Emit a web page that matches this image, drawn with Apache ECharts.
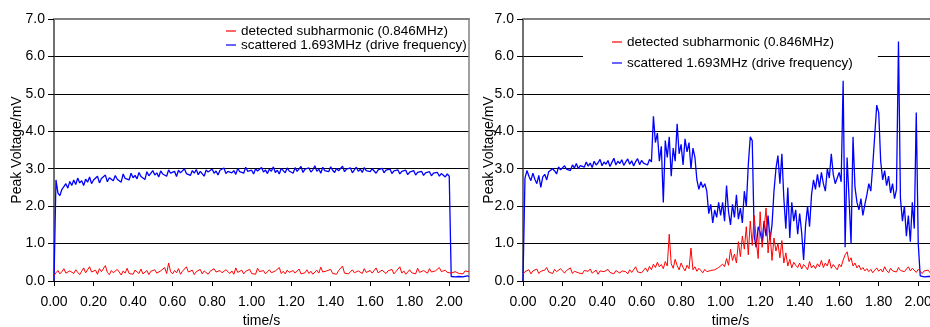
<!DOCTYPE html>
<html>
<head>
<meta charset="utf-8">
<script src="https://cdn.jsdelivr.net/npm/echarts@6/dist/echarts.min.js"></script>
<style>
html,body{margin:0;padding:0;background:#fff;overflow:hidden;}
#chart{width:930px;height:327px;}
</style>
</head>
<body>
<div id="chart"></div>
<script>
// ---- data ----
const sampleStep = 0.01; // s between samples
const seriesNames = ['detected subharmonic (0.846MHz)', 'scattered 1.693MHz (drive frequency)'];
const xTickValues = [0, 0.2, 0.4, 0.6, 0.8, 1.0, 1.2, 1.4, 1.6, 1.8, 2.0];
const yTickValues = [0, 1, 2, 3, 4, 5, 6, 7];

// left panel: subharmonic (red)
const leftSub = [
0.15,0.22,0.28,0.19,0.25,0.33,0.21,0.18,0.27,0.24,
0.20,0.30,0.23,0.17,0.26,0.35,0.22,0.19,0.38,0.24,
0.21,0.29,0.18,0.33,0.25,0.20,0.41,0.23,0.17,0.28,
0.22,0.19,0.31,0.24,0.16,0.27,0.21,0.34,0.20,0.23,
0.18,0.29,0.25,0.20,0.32,0.19,0.24,0.28,0.17,0.26,
0.22,0.30,0.21,0.18,0.27,0.23,0.36,0.20,0.48,0.25,
0.19,0.28,0.22,0.33,0.18,0.26,0.21,0.38,0.24,0.20,
0.29,0.17,0.25,0.22,0.31,0.19,0.27,0.23,0.18,0.26,
0.21,0.33,0.24,0.19,0.28,0.22,0.17,0.30,0.25,0.20,
0.27,0.18,0.35,0.23,0.21,0.29,0.19,0.26,0.22,0.31,
0.20,0.24,0.18,0.34,0.25,0.21,0.28,0.19,0.23,0.30,
0.22,0.17,0.27,0.24,0.36,0.20,0.26,0.19,0.29,0.23,
0.18,0.28,0.21,0.25,0.32,0.19,0.24,0.22,0.30,0.20,
0.26,0.18,0.23,0.29,0.21,0.37,0.24,0.19,0.27,0.22,
0.31,0.20,0.25,0.18,0.28,0.23,0.40,0.21,0.26,0.19,
0.24,0.30,0.22,0.17,0.27,0.25,0.20,0.33,0.23,0.19,
0.28,0.21,0.26,0.35,0.22,0.18,0.29,0.24,0.20,0.27,
0.23,0.31,0.19,0.25,0.22,0.38,0.21,0.27,0.18,0.24,
0.30,0.22,0.26,0.19,0.34,0.23,0.20,0.28,0.25,0.21,
0.33,0.24,0.19,0.27,0.22,0.36,0.25,0.20,0.29,0.23,
0.26,0.21,0.18,0.25,0.29,0.20,0.24,0.19,0.27,0.22,0.25
];

// left panel: scattered drive frequency (blue)
const leftScat = [
0,2.70,2.35,2.28,2.45,2.52,2.60,2.48,2.66,2.55,
2.70,2.58,2.75,2.62,2.68,2.55,2.72,2.64,2.78,2.60,
2.70,2.66,2.80,2.62,2.74,2.69,2.83,2.65,2.76,2.71,
2.68,2.82,2.72,2.77,2.64,2.86,2.74,2.79,2.70,2.88,
2.76,2.82,2.73,2.90,2.79,2.84,2.71,2.92,2.81,2.86,
2.95,2.83,2.89,2.78,2.94,2.86,2.91,2.80,2.97,2.88,
2.85,2.93,2.79,2.96,2.89,2.84,3.00,2.87,2.92,2.82,
2.95,2.88,2.98,2.84,2.93,2.90,2.80,2.97,2.91,2.86,
2.99,2.88,2.94,2.83,2.96,2.91,3.02,2.87,2.93,2.98,
2.89,2.95,2.85,3.01,2.92,2.97,2.88,3.04,2.93,2.90,
2.96,2.86,3.00,2.94,2.89,3.03,2.91,2.97,2.87,2.99,
2.93,3.05,2.90,2.96,2.86,3.01,2.95,2.89,3.02,2.94,
2.98,2.88,3.03,2.93,2.97,3.06,2.90,2.99,2.94,3.02,
2.91,2.97,3.08,2.93,2.99,2.88,3.04,2.95,3.00,2.92,
3.05,2.96,2.90,3.01,2.94,2.98,3.07,2.92,2.99,2.95,
3.02,2.89,2.97,3.04,2.93,2.99,2.90,3.03,2.95,2.98,
2.92,3.00,2.94,2.88,2.97,2.93,3.01,2.89,2.96,2.91,
2.99,2.87,2.94,2.90,2.97,2.86,2.93,2.89,2.96,2.84,
2.91,2.87,2.95,2.83,2.90,2.86,2.93,2.82,2.89,2.85,
2.92,2.81,2.88,2.84,2.90,2.80,2.87,2.83,2.78,2.86,
2.80,0.12,0.13,0.11,0.14,0.12,0.13,0.11,0.12,0.14,0.12
];

// right panel: subharmonic (red)
const rightSub = [
0.18,0.25,0.21,0.30,0.19,0.27,0.23,0.32,0.20,0.26,
0.22,0.29,0.36,0.24,0.27,0.20,0.31,0.25,0.22,0.33,
0.27,0.21,0.28,0.24,0.35,0.20,0.26,0.30,0.22,0.25,
0.19,0.28,0.23,0.26,0.32,0.21,0.24,0.29,0.18,0.27,
0.22,0.25,0.20,0.31,0.23,0.26,0.19,0.28,0.24,0.21,
0.27,0.22,0.25,0.19,0.30,0.23,0.26,0.38,0.24,0.29,
0.22,0.27,0.35,0.25,0.39,0.30,0.45,0.36,0.50,0.38,
0.44,0.33,0.52,0.40,1.25,0.46,0.34,0.58,0.41,0.30,
0.48,0.36,0.27,0.42,0.33,0.88,0.30,0.38,0.26,0.34,
0.29,0.22,0.31,0.25,0.20,0.28,0.23,0.30,0.26,0.36,
0.32,0.45,0.38,0.60,0.42,0.85,0.55,0.72,0.48,1.05,
0.65,1.20,0.85,1.45,0.70,1.60,0.95,1.75,1.10,0.60,
1.85,0.90,1.40,1.95,0.75,1.30,0.55,1.15,0.80,1.00,
0.62,1.08,0.48,0.75,0.40,0.58,0.35,0.50,0.42,0.36,
0.48,0.32,0.44,0.38,0.30,0.52,0.35,0.42,0.33,0.46,
0.38,0.55,0.36,0.48,0.40,0.58,0.34,0.44,0.37,0.30,
0.45,0.38,0.56,0.70,0.78,0.52,0.62,0.40,0.48,0.35,
0.42,0.30,0.36,0.27,0.33,0.25,0.31,0.22,0.29,0.35,
0.26,0.32,0.24,0.38,0.28,0.22,0.34,0.27,0.31,0.24,
0.36,0.28,0.33,0.25,0.30,0.38,0.27,0.34,0.29,0.23,
0.31,0.26,0.20,0.27,0.24,0.29,0.22,0.26,0.30,0.24,0.27
];

// right panel: scattered drive frequency (blue)
const rightScat = [
0,2.75,2.95,2.80,2.68,2.88,2.72,2.60,2.82,2.50,
2.78,2.85,2.70,2.92,2.88,3.00,2.94,2.86,3.05,2.97,
2.92,3.08,2.99,3.03,2.95,3.10,3.02,3.14,3.00,3.08,
3.12,3.04,3.18,3.07,3.15,3.03,3.20,3.10,3.16,3.25,
3.08,3.18,3.12,3.22,3.06,3.17,3.28,3.10,3.20,3.14,
3.24,3.09,3.18,3.26,3.12,3.21,3.07,3.19,3.27,3.11,
3.22,3.15,3.20,3.10,3.25,3.18,4.40,3.70,3.95,3.20,
3.60,2.10,3.75,3.30,3.85,2.80,3.55,3.20,4.20,3.40,
3.65,3.10,3.80,3.45,3.70,3.00,3.55,3.30,2.70,2.45,
2.65,2.50,2.60,2.40,1.80,2.05,1.55,1.90,1.70,2.10,
1.75,2.10,1.60,2.55,1.85,1.50,2.05,1.70,2.30,1.65,
1.95,1.55,2.40,2.00,3.10,3.85,3.75,1.20,0.90,1.45,
1.30,1.05,1.60,1.20,1.75,1.10,1.50,2.40,3.00,3.35,
2.60,3.40,2.20,1.40,2.50,1.15,2.10,1.60,1.90,1.25,
1.80,1.30,0.56,1.50,2.00,1.45,2.30,2.70,2.45,2.85,
2.50,2.90,2.60,2.40,3.00,2.75,3.40,2.85,2.60,2.75,
2.90,2.65,5.35,0.90,3.30,2.20,1.00,3.85,2.50,2.10,
1.90,2.20,1.75,2.05,2.30,2.60,2.40,3.10,3.90,4.70,
4.50,3.20,2.70,2.95,2.55,2.80,2.35,2.60,2.20,2.45,
6.40,2.20,1.60,2.00,1.20,1.75,1.05,2.10,1.40,4.50,
1.00,0.14,0.12,0.11,0.13,0.12,0.10,0.12,0.11,0.13,0.12
];

// ---- build ----
function pairs(arr){ return arr.map((v,i)=>[+(i*sampleStep).toFixed(3), v]); }
const FONT = '"Liberation Sans", Arial, sans-serif';
const chart = echarts.init(document.getElementById('chart'), null, {renderer:'canvas'});

const gridTop = 19, gridH = 262, gridW = 415;
function xBottom(gi){
  return {
    type:'value', gridIndex:gi, min:0, max:2.1, position:'bottom',
    axisLine:{show:true, onZero:false, lineStyle:{color:'#000', width:1}},
    axisTick:{show:true, inside:false, length:5, customValues:xTickValues, lineStyle:{color:'#000'}},
    axisLabel:{show:true, customValues:xTickValues, margin:14, color:'#000', fontSize:14, fontFamily:FONT,
      formatter:v=>v.toFixed(2)},
    splitLine:{show:false},
    name:'time/s', nameLocation:'middle', nameGap:31,
    nameTextStyle:{color:'#000', fontSize:14, fontFamily:FONT}
  };
}
function xTop(gi){
  return {
    type:'value', gridIndex:gi, min:0, max:2.1, position:'top',
    axisLine:{show:true, onZero:false, lineStyle:{color:'#808080', width:2}},
    axisTick:{show:false}, axisLabel:{show:false}, splitLine:{show:false}
  };
}
function yLeft(gi, gap){
  return {
    type:'value', gridIndex:gi, min:0, max:7, interval:1, position:'left',
    axisLine:{show:true, onZero:false, lineStyle:{color:'#404040', width:1.5}},
    axisTick:{show:true, inside:false, length:6, customValues:yTickValues, lineStyle:{color:'#000'}},
    axisLabel:{show:true, customValues:yTickValues, margin:9, color:'#000', fontSize:14, fontFamily:FONT,
      formatter:v=>v.toFixed(1)},
    splitLine:{show:true, lineStyle:{color:'#000', width:1}},
    name:'Peak Voltage/mV', nameLocation:'middle', nameGap:gap, nameMoveOverlap:false,
    nameTextStyle:{color:'#000', fontSize:14, fontFamily:FONT}
  };
}
const legendText = {color:'#000', fontSize:13.5, fontFamily:FONT, lineHeight:14};

const option = {
  animation:false,
  backgroundColor:'#fff',
  grid:[
    {left:54, top:gridTop, width:gridW, height:gridH, outerBoundsMode:'none', containLabel:false},
    {left:523, top:gridTop, width:gridW, height:gridH, outerBoundsMode:'none', containLabel:false}
  ],
  xAxis:[xBottom(0), xBottom(1), xTop(0), xTop(1)],
  yAxis:[yLeft(0, 30), yLeft(1, 27), {
    type:'value', gridIndex:0, min:0, max:7, position:'right',
    axisLine:{show:true, onZero:false, lineStyle:{color:'#808080', width:1.5}},
    axisTick:{show:false}, axisLabel:{show:false}, splitLine:{show:false}
  }],
  legend:[
    {data:seriesNames, orient:'vertical', left:226, top:22, padding:[2,2,2,0], itemGap:0,
     icon:'rect', itemWidth:10, itemHeight:1.2, textStyle:legendText, selectedMode:false},
    {data:seriesNames, orient:'vertical', left:583, top:27, padding:[8,25,8,29], itemGap:7,
     backgroundColor:'#fff',
     icon:'rect', itemWidth:10, itemHeight:1.2, textStyle:legendText, selectedMode:false}
  ],
  series:[
    {name:seriesNames[1], type:'line', xAxisIndex:0, yAxisIndex:0, data:pairs(leftScat),
     symbol:'none', lineStyle:{color:'#0000ff', width:1.3}, itemStyle:{color:'#0000ff'}},
    {name:seriesNames[0], type:'line', xAxisIndex:0, yAxisIndex:0, data:pairs(leftSub),
     symbol:'none', lineStyle:{color:'#ff0000', width:1}, itemStyle:{color:'#ff0000'}},
    {name:seriesNames[1], type:'line', xAxisIndex:1, yAxisIndex:1, data:pairs(rightScat),
     symbol:'none', lineStyle:{color:'#0000ff', width:1.3}, itemStyle:{color:'#0000ff'}},
    {name:seriesNames[0], type:'line', xAxisIndex:1, yAxisIndex:1, data:pairs(rightSub),
     symbol:'none', lineStyle:{color:'#ff0000', width:1}, itemStyle:{color:'#ff0000'}}
  ]
};
chart.setOption(option);
</script>
</body>
</html>
